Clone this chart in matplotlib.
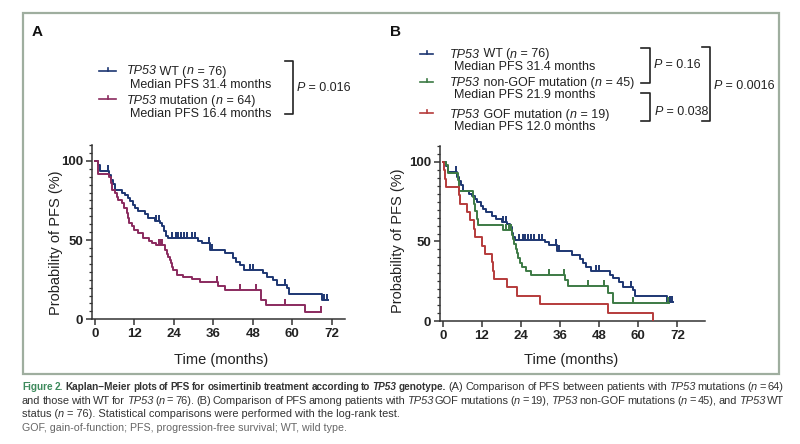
import numpy as np
import matplotlib
matplotlib.use("Agg")
import matplotlib.pyplot as plt
from matplotlib.patches import Rectangle
from matplotlib import font_manager

# ---------------- data ----------------
# TP53 WT (n = 76): event times (months) and survival (%) after each step
wt_t = [0.8, 1.5, 4.3, 4.9, 5.6, 6.1, 8.1, 9.0, 9.9, 10.6, 11.6, 12.3, 13.2, 15.2,
        16.2, 18.2, 19.8, 20.5, 21.1, 21.6, 22.1, 31.4, 32.5, 35.0, 39.5, 42.0,
        42.9, 44.0, 45.4, 51.2, 52.2, 54.2, 55.4, 58.4, 59.1, 68.9]
wt_s = [97.2, 93.4, 90.8, 88.2, 85.5, 81.9, 80.0, 78.5, 76.6, 74.5, 72.4, 70.5, 68.3, 66.2,
        64.1, 62.0, 60.9, 58.8, 55.6, 52.5, 51.0, 49.5, 47.9, 44.0, 41.6, 38.8,
        36.3, 34.2, 31.3, 29.0, 26.8, 24.8, 21.6, 19.5, 15.9, 12.2]
wt_cens = [4.0, 18.5, 19.5, 23.5, 24.5, 25.3, 26.2, 27.0, 28.0, 29.5, 30.3, 34.7, 35.5,
           47.0, 48.0, 57.8, 69.6, 70.4]
wt_end = 70.8

# TP53 mutation (n = 64)
mut_t = [1.0, 4.3, 4.8, 5.1, 6.1, 6.6, 7.1, 8.1, 8.9, 9.6, 9.9, 10.3, 11.2, 12.0, 13.2,
         14.7, 16.4, 17.2, 18.7, 21.3, 21.8, 22.3, 22.7, 23.1, 23.5, 23.8, 24.8, 26.9,
         29.4, 31.9, 37.4, 39.5, 50.5, 51.9, 63.8]
mut_s = [91.6, 89.9, 86.0, 81.5, 79.5, 77.3, 75.2, 73.1, 70.0, 66.8, 63.7, 60.9, 58.8, 56.3, 54.2,
         51.0, 49.6, 47.9, 46.9, 43.7, 41.5, 39.5, 37.5, 35.3, 33.0, 31.1, 27.9, 26.9,
         25.2, 23.7, 21.0, 18.5, 12.2, 9.0, 4.8]
mut_cens = [19.5, 20.0, 20.5, 37.2, 44.1, 49.1, 57.8, 68.6]
mut_end = 68.6

# TP53 non-GOF mutation (n = 45)
ngof_t = [0.8, 1.5, 4.5, 5.0, 9.2, 9.6, 10.0, 10.4, 10.9, 18.6, 21.2, 21.6, 21.9, 22.3,
          22.7, 23.2, 23.7, 24.2, 25.5, 27.0, 37.5, 38.5, 50.8, 52.3]
ngof_s = [97.8, 93.3, 88.9, 82.0, 77.8, 73.3, 68.9, 64.4, 60.6, 57.5, 54.3, 51.5, 48.5, 45.5,
          42.5, 39.5, 36.5, 34.0, 31.5, 29.1, 25.9, 22.1, 17.5, 11.2]
ngof_cens = [19.5, 20.2, 20.9, 32.7, 37.2, 44.7, 49.5, 58.3, 69.2]
ngof_end = 69.5

# TP53 GOF mutation (n = 19)
gof_t = [0.3, 0.7, 1.0, 4.8, 5.3, 7.4, 8.4, 9.4, 9.9, 12.0, 13.0, 15.0, 15.3, 15.6,
         19.6, 22.7, 29.9, 50.8, 64.4]
gof_s = [94.7, 89.5, 84.2, 78.9, 73.7, 68.4, 63.2, 57.9, 52.6, 47.4, 42.1, 36.8, 31.6, 26.3,
         21.1, 15.8, 10.5, 5.3, 0.0]
gof_cens = []
gof_end = 64.4

x_ticks = [0, 12, 24, 36, 48, 60, 72]
y_ticks = [0, 50, 100]

C_WT = "#1d3672"
C_MUT = "#8a2a5e"
C_NGOF = "#3c7a44"
C_GOF = "#b53b3b"

FONT = "Liberation Sans"
avail = {f.name for f in font_manager.fontManager.ttflist}
CAP_FONT = "Liberation Sans Narrow" if "Liberation Sans Narrow" in avail else FONT

W, H = 800, 444
fig = plt.figure(figsize=(W / 100, H / 100), dpi=100)
fig.patch.set_facecolor("white")

TICKUP = [(0, 0), (0, 1)]


def px_axes(left, top, right, bottom):
    return fig.add_axes([left / W, 1 - bottom / H, (right - left) / W, (bottom - top) / H])


def km(ax, t, s, cens, end, color):
    xs = [0] + list(t) + [end]
    ys = [100] + list(s) + [s[-1]]
    ax.step(xs, ys, where="post", color=color, lw=1.4, zorder=3)
    if cens:
        tt = np.array(t)
        ss = np.array(s)
        cy = []
        for c in cens:
            i = np.searchsorted(tt, c, side="right") - 1
            cy.append(100 if i < 0 else ss[i])
        ax.plot(cens, cy, ls="none", marker=TICKUP, ms=8, mew=1.4, color=color, zorder=4)


def style_axes(ax, xmax):
    ax.set_xlim(-0.9, xmax)
    ax.set_ylim(0, 110)
    for sp in ("top", "right"):
        ax.spines[sp].set_visible(False)
    for sp in ("left", "bottom"):
        ax.spines[sp].set_linewidth(1.1)
        ax.spines[sp].set_color("#333333")
    ax.set_xticks(x_ticks)
    ax.set_yticks(y_ticks)
    ax.set_yticks(np.arange(0, 111, 5), minor=True)
    ax.tick_params(which="major", length=4.5, width=1.1, color="#333333", pad=2)
    ax.tick_params(which="minor", axis="y", length=2.5, width=0.9, color="#333333")
    for lab in ax.get_xticklabels() + ax.get_yticklabels():
        lab.set_fontfamily(FONT)
        lab.set_fontweight("bold")
        lab.set_fontsize(9.5)
        lab.set_color("#222222")
    ax.patch.set_alpha(0)


axA = px_axes(92, 145, 345, 319.3)
km(axA, wt_t, wt_s, wt_cens, wt_end, C_WT)
km(axA, mut_t, mut_s, mut_cens, mut_end, C_MUT)
style_axes(axA, 76)

axB = px_axes(440, 146, 705, 321)
km(axB, wt_t, wt_s, wt_cens, wt_end, C_WT)
km(axB, ngof_t, ngof_s, ngof_cens, ngof_end, C_NGOF)
km(axB, gof_t, gof_s, gof_cens, gof_end, C_GOF)
style_axes(axB, 80.5)

# ---------------- overlay in pixel coordinates ----------------
ov = fig.add_axes([0, 0, 1, 1])
ov.set_xlim(0, W)
ov.set_ylim(H, 0)
ov.axis("off")
ov.patch.set_alpha(0)

fig.canvas.draw()
R = fig.canvas.get_renderer()


def adv(s, kw):
    a = ov.text(0, 0, "x" + s + "x", **kw)
    b = ov.text(0, 0, "xx", **kw)
    w = a.get_window_extent(R).width - b.get_window_extent(R).width
    a.remove()
    b.remove()
    return w


def draw_line(x0, y, segs, size, family=FONT, color="#222222", justify_to=None):
    base = dict(fontsize=size, family=family, color=color, va="baseline", ha="left")
    if justify_to is None:
        x = x0
        for text, props in segs:
            kw = dict(base)
            kw.update(props)
            ov.text(x, y, text, **kw)
            x += adv(text, kw)
        return
    groups = [[]]
    for text, props in segs:
        parts = text.split(" ")
        for i, p in enumerate(parts):
            if i > 0:
                groups.append([])
            if p:
                groups[-1].append((p, props))
    groups = [g for g in groups if g]
    placed = []
    total = 0
    for g in groups:
        ga = []
        for p, props in g:
            kw = dict(base)
            kw.update(props)
            ga.append((p, kw, adv(p, kw)))
            total += ga[-1][2]
        placed.append(ga)
    gap = (justify_to - x0 - total) / (len(groups) - 1)
    x = x0
    for ga in placed:
        for p, kw, w in ga:
            ov.text(x, y, p, **kw)
            x += w
        x += gap


IT = {"style": "italic"}
NO = {}

# border
ov.add_patch(Rectangle((22.5, 13.5), 756.5, 360.5, fill=False, edgecolor="#9fae9f", lw=1.6))

# panel letters
ov.text(32, 36.5, "A", fontsize=11, weight="bold", family=FONT, color="#111111")
ov.text(390, 36, "B", fontsize=11, weight="bold", family=FONT, color="#111111")


def symbol(x0, x1, y, color):
    ov.plot([x0, x1], [y, y], color=color, lw=1.2)
    xm = (x0 + x1) / 2
    ov.plot([xm, xm], [y, y - 3], color=color, lw=1.2)


def bracket(x, y0, y1, tick=8):
    ov.plot([x - tick, x, x, x - tick], [y0, y0, y1, y1], color="#222222", lw=1.2)


LS = 9
# legend A
symbol(99, 116, 71.5, C_WT)
draw_line(126.5, 74.5, [("TP53", IT), (" WT (", NO), ("n", IT), (" = 76)", NO)], LS)
draw_line(130, 88, [("Median PFS 31.4 months", NO)], LS)
symbol(99, 116, 99.5, C_MUT)
draw_line(126.5, 104, [("TP53", IT), (" mutation (", NO), ("n", IT), (" = 64)", NO)], LS)
draw_line(130, 117, [("Median PFS 16.4 months", NO)], LS)
bracket(293, 61, 114.5)
draw_line(297, 91, [("P", IT), (" = 0.016", NO)], LS)

# legend B
symbol(420, 433, 54.5, C_WT)
draw_line(450, 57.5, [("TP53", IT), (" WT (", NO), ("n", IT), (" = 76)", NO)], LS)
draw_line(453.5, 70, [("Median PFS 31.4 months", NO)], LS)
symbol(420, 433, 82, C_NGOF)
draw_line(450, 86, [("TP53", IT), (" non-GOF mutation (", NO), ("n", IT), (" = 45)", NO)], LS)
draw_line(453.5, 98, [("Median PFS 21.9 months", NO)], LS)
symbol(420, 433, 113.5, C_GOF)
draw_line(450, 118, [("TP53", IT), (" GOF mutation (", NO), ("n", IT), (" = 19)", NO)], LS)
draw_line(453.5, 130, [("Median PFS 12.0 months", NO)], LS)
bracket(649.5, 48.5, 83.5, tick=9)
draw_line(654, 68.5, [("P", IT), (" = 0.16", NO)], LS)
bracket(649.5, 93.5, 121, tick=9)
draw_line(655, 114.5, [("P", IT), (" = 0.038", NO)], LS)
bracket(710, 47, 121, tick=8.5)
draw_line(714, 89, [("P", IT), (" = 0.0016", NO)], LS)

# axis titles
for xc, yc in ((56.5, 243), (398, 241)):
    ov.text(xc, yc, "Probability of PFS (%)", rotation=90, ha="center", va="center",
            fontsize=10.5, family=FONT, color="#222222")
for xc in (221, 571):
    ov.text(xc, 360, "Time (months)", ha="center", va="center", fontsize=10.5,
            family=FONT, color="#222222")

# caption
CS = 7.9
BS = 7.2
BO = {"weight": "bold", "fontsize": BS}
BI = {"weight": "bold", "style": "italic", "fontsize": BS}
GR = {"weight": "bold", "color": "#3d8a5c", "fontsize": BS}
draw_line(22, 390, [("Figure 2.", GR), ("  Kaplan\u2212Meier plots of PFS for osimertinib treatment according to ", BO),
                    ("TP53", BI), (" genotype.", BO), (" (A) Comparison of PFS between patients with ", NO),
                    ("TP53", IT), (" mutations (", NO), ("n", IT), (" = 64)", NO)],
          CS, family=CAP_FONT, color="#333333", justify_to=784)
draw_line(22, 403.5, [("and those with WT for ", NO), ("TP53", IT), (" (", NO), ("n", IT),
                      (" = 76). (B) Comparison of PFS among patients with ", NO), ("TP53", IT),
                      (" GOF mutations (", NO), ("n", IT), (" = 19), ", NO), ("TP53", IT),
                      (" non-GOF mutations (", NO), ("n", IT), (" = 45), and ", NO), ("TP53", IT), (" WT", NO)],
          CS, family=CAP_FONT, color="#333333", justify_to=784)
draw_line(22, 417, [("status (", NO), ("n", IT), (" = 76). Statistical comparisons were performed with the log-rank test.", NO)],
          CS, family=CAP_FONT, color="#333333")
draw_line(22, 430.5, [("GOF, gain-of-function; PFS, progression-free survival; WT, wild type.", NO)],
          CS - 0.2, family=CAP_FONT, color="#666666")

fig.savefig("out.png", dpi=100, facecolor="white")
